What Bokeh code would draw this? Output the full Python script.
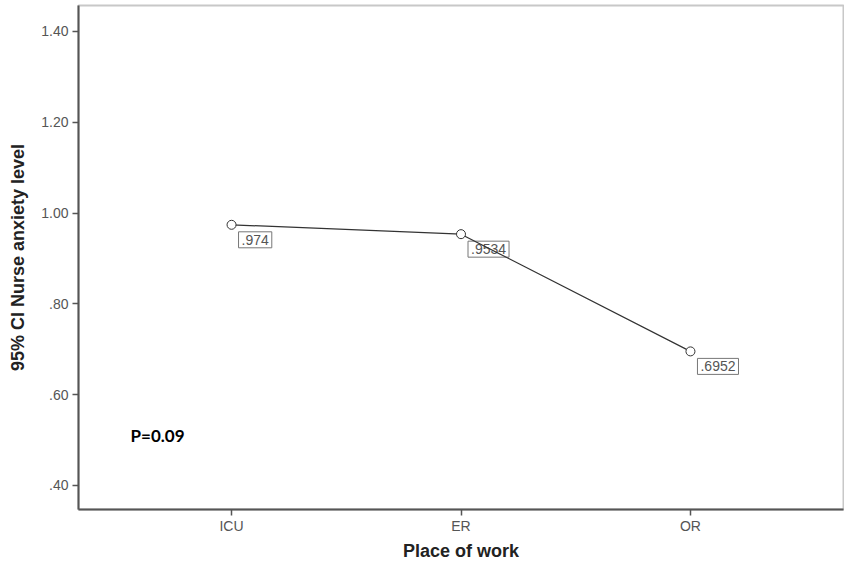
from bokeh.plotting import figure
from bokeh.models import ColumnDataSource, FixedTicker, Label
from bokeh.embed import file_html
from bokeh.resources import INLINE

categories = ["ICU", "ER", "OR"]
means = [0.974, 0.9534, 0.6952]
mean_labels = [".974", ".9534", ".6952"]
y_ticks = [0.40, 0.60, 0.80, 1.00, 1.20, 1.40]
y_tick_labels = [".40", ".60", ".80", "1.00", "1.20", "1.40"]
p_text = "P=0.09"

xs = list(range(len(categories)))
src = ColumnDataSource(dict(x=xs, y=means, lab=mean_labels))

p = figure(width=844, height=563, output_backend="svg", toolbar_location=None,
           x_range=(-0.667, 2.667), y_range=(0.347, 1.457),
           min_border_left=78, min_border_right=1, min_border_top=5, min_border_bottom=54)

p.xgrid.visible = False
p.ygrid.visible = False
p.outline_line_color = "#c8c8c8"
p.outline_line_width = 2
p.background_fill_color = "white"
p.border_fill_color = "white"

for xv, yv, lab in zip(xs, means, mean_labels):
    p.add_layout(Label(x=xv, y=yv, text=lab, x_offset=7, y_offset=-7,
                       text_baseline="top", text_align="left", text_font_size="14px",
                       text_font="Liberation Sans", text_color="#555555",
                       background_fill_color="white", border_line_color="#777777",
                       border_line_width=1, padding=3, level="underlay"))

p.line("x", "y", source=src, line_color="#333333", line_width=1.2)
p.scatter("x", "y", source=src, marker="circle", size=9, fill_color="white",
          line_color="#333333", line_width=1)

p.add_layout(Label(x=-0.44, y=0.51, text=p_text, text_font="Lato",
                   text_font_style="bold", text_font_size="17px", text_color="black",
                   text_baseline="middle"))

p.xaxis.ticker = FixedTicker(ticks=xs)
p.xaxis.major_label_overrides = {i: c for i, c in zip(xs, categories)}
p.yaxis.ticker = FixedTicker(ticks=y_ticks)
p.yaxis.major_label_overrides = {t: l for t, l in zip(y_ticks, y_tick_labels)}

for ax in (p.xaxis, p.yaxis):
    ax.axis_line_color = "#555555"
    ax.axis_line_width = 2
    ax.major_tick_line_color = "#555555"
    ax.major_tick_line_width = 1.5
    ax.major_tick_out = 6
    ax.major_tick_in = 0
    ax.minor_tick_line_color = None
    ax.major_label_text_font = "Liberation Sans"
    ax.major_label_text_font_size = "14px"
    ax.major_label_text_color = "#555555"
    ax.axis_label_text_font = "Liberation Sans"
    ax.axis_label_text_font_style = "bold"
    ax.axis_label_text_font_size = "18px"
    ax.axis_label_text_color = "#222222"

p.xaxis.axis_label = "Place of work"
p.yaxis.axis_label = "95% CI Nurse anxiety level"
p.xaxis.major_label_standoff = 2
p.yaxis.major_label_standoff = 4
p.xaxis.axis_label_standoff = 4
p.yaxis.axis_label_standoff = 10

open("out.html", "w").write(file_html(p, INLINE))
